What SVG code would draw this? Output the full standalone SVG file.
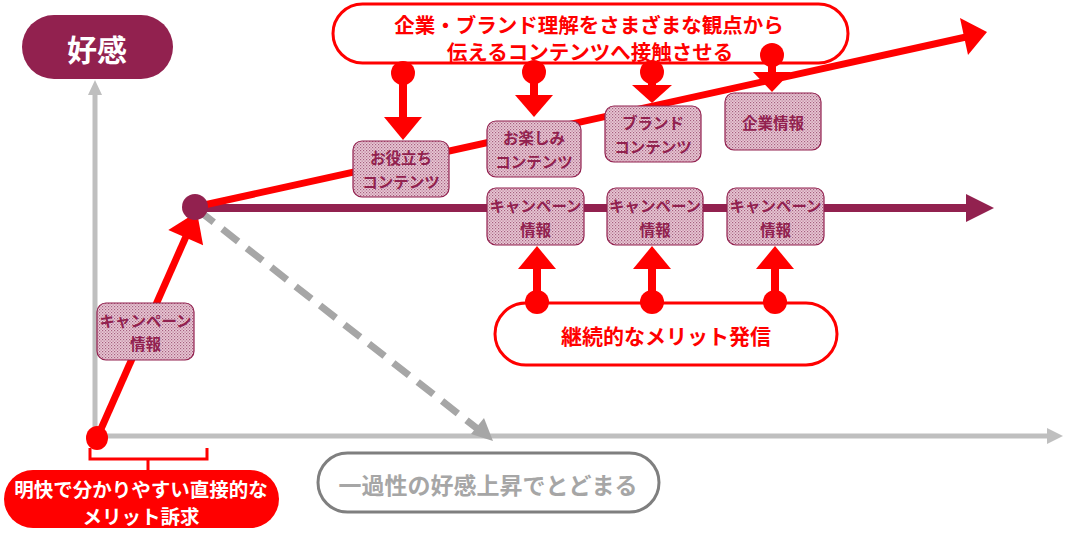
<svg xmlns="http://www.w3.org/2000/svg" width="1080" height="538" viewBox="0 0 1080 538">
<style>
text{font-family:"Noto Sans CJK JP","Noto Sans",sans-serif;font-weight:bold;text-anchor:middle;dominant-baseline:central}
.pink{fill:url(#dots);stroke:#92214F;stroke-width:1.2}
.pt{fill:#92214F;font-size:15.5px}
.red{fill:#FF0000}
.rl{stroke:#FF0000;stroke-width:7;fill:none}
.stem{stroke:#FF0000;stroke-width:8;fill:none}
.ax{stroke:#BFBFBF;stroke-width:5;fill:none}
</style>
<defs>
<pattern id="dots" width="3" height="3" patternUnits="userSpaceOnUse">
<rect width="3" height="3" fill="#E9C9D6"/>
<rect width="1.2" height="1.2" fill="#A65F7F"/>
<rect x="1.5" y="1.5" width="1.2" height="1.2" fill="#B77793"/>
</pattern>
</defs>

<g id="connectors">
<line class="ax" x1="95" y1="438" x2="95" y2="94"/>
<polygon points="95,80 88,95 102,95" fill="#BFBFBF"/>
<line class="ax" x1="93" y1="436" x2="1048" y2="436"/>
<polygon points="1063,436 1047,428 1047,444" fill="#BFBFBF"/>
<line x1="198" y1="210" x2="479" y2="430" stroke="#A6A6A6" stroke-width="7" stroke-dasharray="20,11"/>
<polygon points="493,441 471,434 484,418" fill="#A6A6A6"/>
<line x1="195" y1="208" x2="968" y2="208" stroke="#92214F" stroke-width="8"/>
<polygon points="994,208 966,194 966,222" fill="#92214F"/>
<line class="rl" x1="195" y1="207" x2="966" y2="37"/>
<polygon points="987,32 960,18 968,55" class="red"/>
<line class="rl" x1="97" y1="438" x2="188" y2="232"/>
<polygon points="197,212 168.3,229.9 203.1,245.3" class="red"/>
<line class="stem" x1="403" y1="73" x2="403" y2="118"/>
<polygon points="403,140 384,117 422,117" class="red"/>
<line class="stem" x1="534" y1="72" x2="534" y2="96"/>
<polygon points="534,117 515,95 553,95" class="red"/>
<line class="stem" x1="652" y1="72" x2="652" y2="86"/>
<polygon points="652,103 632,85 672,85" class="red"/>
<line class="stem" x1="772" y1="55" x2="772" y2="73"/>
<polygon points="772,92 753,72 791,72" class="red"/>
<line class="stem" x1="537" y1="302" x2="537" y2="268"/>
<polygon points="537,246 518,269 556,269" class="red"/>
<line class="stem" x1="652" y1="302" x2="652" y2="268"/>
<polygon points="652,246 633,269 671,269" class="red"/>
<line class="stem" x1="775" y1="302" x2="775" y2="268"/>
<polygon points="775,246 756,269 794,269" class="red"/>
<path d="M90,448 V459 H207 V448 M148,459 V471" stroke="#FF0000" stroke-width="3" fill="none"/>
</g>

<g id="callout-top">
<rect x="333" y="4" width="515" height="59" rx="29.5" fill="#FFFFFF" stroke="#FF0000" stroke-width="3"/>
<text x="589" y="24" class="red" style="font-size:20.5px">企業・ブランド理解をさまざまな観点から</text>
<text x="590" y="51" class="red" style="font-size:20.5px">伝えるコンテンツへ接触させる</text>
</g>

<g id="pin-dots">
<circle cx="403" cy="73" r="12" class="red"/>
<circle cx="534" cy="72" r="12" class="red"/>
<circle cx="652" cy="72" r="12" class="red"/>
<circle cx="772" cy="55" r="12" class="red"/>
<ellipse cx="97" cy="438" rx="11" ry="12" class="red"/>
<circle cx="195" cy="207" r="13" fill="#92214F"/>
</g>

<g id="koukan">
<rect x="22" y="15" width="151" height="64" rx="32" fill="#92214F"/>
<text x="97" y="48" fill="#FFFFFF" style="font-size:30px">好感</text>
</g>

<g id="box-oyakudachi">
<rect class="pink" x="353" y="141" width="96" height="56" rx="9"/>
<text class="pt" x="401" y="157">お役立ち</text>
<text class="pt" x="401" y="181">コンテンツ</text>
</g>
<g id="box-otanoshimi">
<rect class="pink" x="487" y="121" width="94" height="56" rx="9"/>
<text class="pt" x="534" y="137">お楽しみ</text>
<text class="pt" x="534" y="161">コンテンツ</text>
</g>
<g id="box-brand">
<rect class="pink" x="605" y="106" width="96" height="56" rx="9"/>
<text class="pt" x="653" y="122">ブランド</text>
<text class="pt" x="653" y="146">コンテンツ</text>
</g>
<g id="box-kigyo">
<rect class="pink" x="725" y="93" width="96" height="57" rx="9"/>
<text class="pt" x="773" y="122">企業情報</text>
</g>
<g id="box-campaign-left">
<rect class="pink" x="97" y="303" width="97" height="57" rx="9"/>
<text class="pt" x="145.5" y="320">キャンペーン</text>
<text class="pt" x="145.5" y="343">情報</text>
</g>
<g id="box-campaign-1">
<rect class="pink" x="487" y="188" width="97" height="57" rx="9"/>
<text class="pt" x="535.5" y="205">キャンペーン</text>
<text class="pt" x="535.5" y="229">情報</text>
</g>
<g id="box-campaign-2">
<rect class="pink" x="607" y="188" width="96" height="57" rx="9"/>
<text class="pt" x="655" y="205">キャンペーン</text>
<text class="pt" x="655" y="229">情報</text>
</g>
<g id="box-campaign-3">
<rect class="pink" x="727" y="188" width="97" height="57" rx="9"/>
<text class="pt" x="775.5" y="205">キャンペーン</text>
<text class="pt" x="775.5" y="229">情報</text>
</g>

<g id="callout-continuous">
<rect x="495" y="303" width="342" height="62" rx="31" fill="#FFFFFF" stroke="#FF0000" stroke-width="3"/>
<text x="666" y="335" class="red" style="font-size:21px">継続的なメリット発信</text>
</g>
<g id="bottom-dots">
<circle cx="537" cy="302" r="12" class="red"/>
<circle cx="652" cy="302" r="12" class="red"/>
<circle cx="775" cy="302" r="12" class="red"/>
</g>

<g id="callout-direct">
<rect x="4" y="470" width="275" height="58" rx="29" fill="#FF0000"/>
<text x="141" y="488" fill="#FFFFFF" style="font-size:19.5px">明快で分かりやすい直接的な</text>
<text x="141" y="515" fill="#FFFFFF" style="font-size:19.5px">メリット訴求</text>
</g>

<g id="callout-temporary">
<rect x="318" y="453" width="341" height="59" rx="29.5" fill="#FFFFFF" stroke="#7F7F7F" stroke-width="3"/>
<text x="488" y="484" fill="#A6A6A6" style="font-size:23px">一過性の好感上昇でとどまる</text>
</g>
</svg>
